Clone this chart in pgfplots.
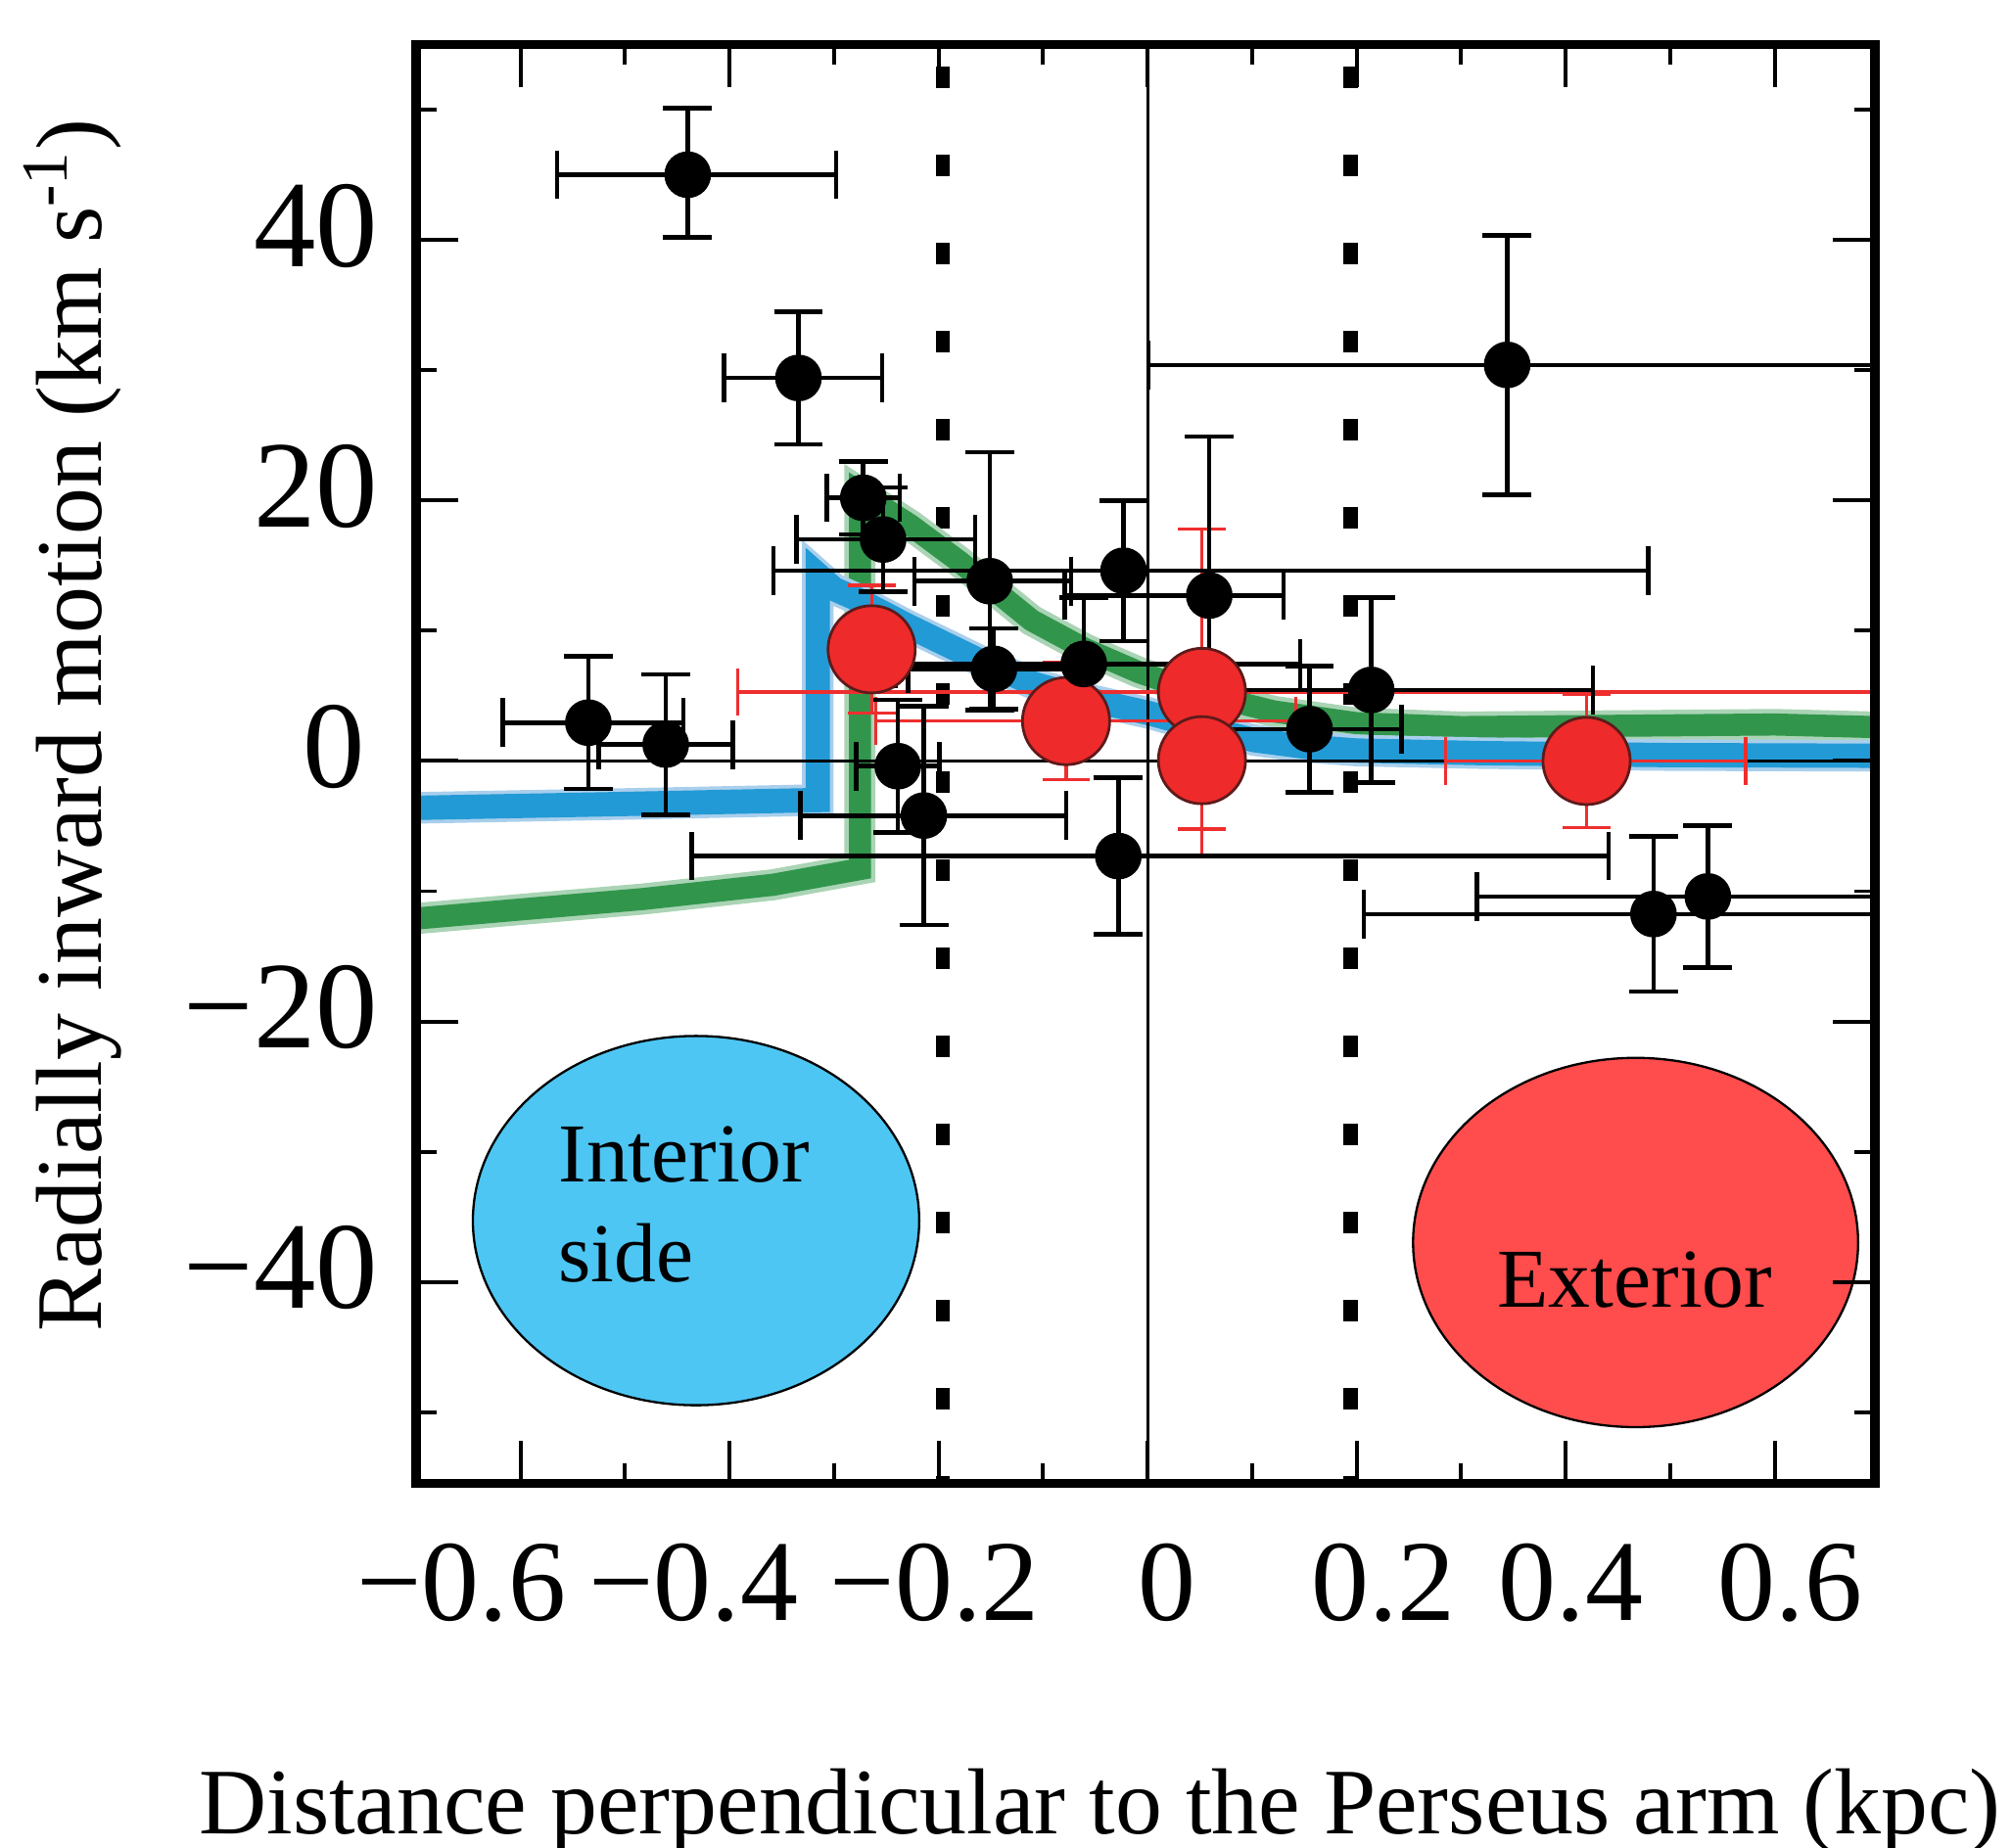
\documentclass[border=0pt]{standalone}
\usepackage{fontspec}
\setmainfont{Liberation Serif}
\usepackage{pgfplots}
\usepackage{pgfplotstable}
\pgfplotsset{compat=1.18}

\definecolor{bluedark}{HTML}{229AD6}
\definecolor{bluelight}{HTML}{A9CFEC}
\definecolor{greendark}{HTML}{31964C}
\definecolor{greenlight}{HTML}{AAD4B5}
\definecolor{redfill}{HTML}{EE2A2A}
\definecolor{rededge}{HTML}{5E1A1A}
\definecolor{rederr}{HTML}{EE2E2E}
\definecolor{ellblue}{HTML}{4DC6F3}
\definecolor{ellred}{HTML}{FF4C4C}

\pgfplotstableread{
x y exm exp eym eyp
-0.440 45.0 0.125 0.142 4.8 5.1
-0.334 29.4 0.071 0.080 5.1 5.1
-0.272 20.2 0.035 0.035 2.8 2.8
-0.253 17.0 0.083 0.088 4.0 4.0
-0.151 13.8 0.072 0.078 9.9 9.9
-0.023 14.6 0.335 0.502 5.4 5.4
0.059 12.7 0.138 0.071 12.1 12.2
-0.147 7.07 0.082 0.075 3.1 3.1
-0.061 7.45 0.180 0.207 5.1 5.1
-0.535 2.94 0.082 0.091 5.1 5.1
-0.461 1.26 0.064 0.064 5.4 5.4
-0.239 -0.4 0.040 0.040 5.1 5.1
-0.214 -4.19 0.118 0.136 8.4 8.4
-0.028 -7.3 0.408 0.469 6.0 6.0
0.155 2.44 0.088 0.088 4.85 4.85
0.214 5.45 0.180 0.212 7.1 7.1
0.344 30.4 0.343 0.5 9.95 9.95
0.484 -11.75 0.277 0.5 5.95 5.95
0.536 -10.4 0.221 0.5 5.45 5.45
}\blackdata

\pgfplotstableread{
x y exm exp eym eyp
-0.264 8.57 0 0 4.9 4.9
-0.078 3.06 0.182 0.220 4.5 4.5
0.052 5.3 0.444 0.7 12.5 12.5
0.052 0.06 0 0 5.3 5.3
0.420 0.0 0.135 0.152 5.1 5.1
}\reddata

\pgfplotstableread{
x y
-0.700 -3.6
-0.500 -3.3
-0.3155 -3.0
-0.3155 14.3
-0.300 13.2
-0.280 12.5
-0.230 10.4
-0.158 7.6
-0.108 5.9
-0.050 4.6
0.000 3.7
0.050 2.6
0.102 1.6
0.150 1.1
0.200 0.8
0.320 0.6
0.500 0.45
0.696 0.4
}\bluedata

\pgfplotstableread{
x y
-0.700 -12.1
-0.600 -11.4
-0.483 -10.6
-0.358 -9.5
-0.2752 -8.3
-0.2752 20.6
-0.227 18.1
-0.180 15.3
-0.111 10.8
-0.060 8.6
-0.008 6.8
0.050 5.2
0.121 3.8
0.200 2.9
0.300 2.6
0.450 2.7
0.600 2.8
0.696 2.6
}\greendata

\begin{document}
\begin{tikzpicture}
\begin{axis}[
  at={(0,0)}, anchor=south west,
  scale only axis, width=113.77mm, height=112.23mm,
  xmin=-0.700, xmax=0.696, ymin=-55.46, ymax=55.0,
  axis on top,
  axis line style={line width=2.1pt, black},
  xtick pos=both, ytick pos=both,
  xtick={-0.6,-0.4,-0.2,0,0.2,0.4,0.6},
  xticklabels={{\makebox[0pt]{\hspace*{-9.2mm}−0.6}},{\makebox[0pt]{\hspace*{-5.6mm}−0.4}},{\makebox[0pt]{\hspace*{-0.6mm}−0.2}},{\makebox[0pt]{\hspace*{3mm}0}},{\makebox[0pt]{\hspace*{4.2mm}0.2}},{\makebox[0pt]{\hspace*{0.8mm}0.4}},{\makebox[0pt]{\hspace*{2.4mm}0.6}}},
  minor xtick={-0.5,-0.3,-0.1,0.1,0.3,0.5},
  ytick={-40,-20,0,20,40},
  yticklabels={−40,−20,{0\hspace*{1mm}},20,40},
  minor ytick={-50,-30,-10,10,30,50},
  tick align=inside,
  major tick length=3.3mm, minor tick length=1.6mm,
  every tick/.style={black, line width=0.85pt},
  xticklabel style={font=\fontsize{25.6}{26}\selectfont, inner sep=0pt, anchor=north, yshift=-4.6mm},
  yticklabel style={font=\fontsize{27.5}{28}\selectfont, inner sep=0pt, anchor=east, xshift=-2.9mm, yshift=1.1mm},
  xlabel={Distance perpendicular to the Perseus arm (kpc)},
  ylabel={Radially inward motion (km s\textsuperscript{-1})},
  label style={font=\fontsize{20.8}{24}\selectfont},
  xlabel style={at={(axis description cs:0.4687,-0.2277)}, anchor=center, inner sep=0pt},
  ylabel style={at={(axis description cs:-0.2353,0.5268)}, anchor=center, inner sep=0pt},
]
% dotted arm boundaries
\addplot[black, line width=1.1mm, dash pattern=on 1.7mm off 5.17mm, dash phase=5.14mm] coordinates {(-0.1957,55.0) (-0.1957,-55.46)};
\addplot[black, line width=1.1mm, dash pattern=on 1.7mm off 5.17mm, dash phase=5.14mm] coordinates {(0.1944,55.0) (0.1944,-55.46)};
% model curves
\addplot[greenlight, line width=6.9pt, line join=miter] table[x=x,y=y] {\greendata};
\addplot[greendark, line width=4.9pt, line join=miter] table[x=x,y=y] {\greendata};
\addplot[bluelight, line width=7pt, line join=miter] table[x=x,y=y] {\bluedata};
\addplot[bluedark, line width=5.4pt, line join=miter] table[x=x,y=y] {\bluedata};
% zero lines
\addplot[black, line width=0.7pt] coordinates {(-0.70,0) (0.696,0)};
\addplot[black, line width=0.65pt] coordinates {(0,-55.46) (0,55.0)};
% red points
\addplot[rederr, only marks, mark=*, mark size=3.4mm,
  mark options={fill=redfill, draw=rededge, line width=0.6pt},
  error bars/.cd, x dir=both, x explicit, y dir=both, y explicit,
  error bar style={line width=0.75pt, rederr},
  error mark options={rotate=90, mark size=1.85mm, line width=0.75pt, rederr}]
  table[x=x, y=y, x error minus=exm, x error plus=exp, y error minus=eym, y error plus=eyp] {\reddata};
% black points
\addplot[black, only marks, mark=*, mark size=1.75mm,
  error bars/.cd, x dir=both, x explicit, y dir=both, y explicit,
  error bar style={line width=1pt, black},
  error mark options={rotate=90, mark size=1.9mm, line width=1pt, black}]
  table[x=x, y=y, x error minus=exm, x error plus=exp, y error minus=eym, y error plus=eyp] {\blackdata};
% side markers
\draw[fill=ellblue, line width=0.5pt] (axis cs:-0.432,-35.28) ellipse [x radius=17.4mm, y radius=14.4mm];
\draw[fill=ellred, line width=0.5pt] (axis cs:0.4669,-36.96) ellipse [x radius=17.35mm, y radius=14.4mm];
\node[anchor=base west, inner sep=0pt, font=\fontsize{18.6}{20}\selectfont] at (axis cs:-0.5644,-32.33) {Interior};
\node[anchor=base west, inner sep=0pt, font=\fontsize{18.6}{20}\selectfont] at (axis cs:-0.5644,-40.0) {side};
\node[anchor=base, inner sep=0pt, font=\fontsize{18.6}{20}\selectfont] at (axis cs:0.4663,-41.9) {Exterior};
\end{axis}
\pgfresetboundingbox
\path (-32.43mm,-28.4mm) rectangle (124.37mm,115.7mm);
\end{tikzpicture}
\end{document}
